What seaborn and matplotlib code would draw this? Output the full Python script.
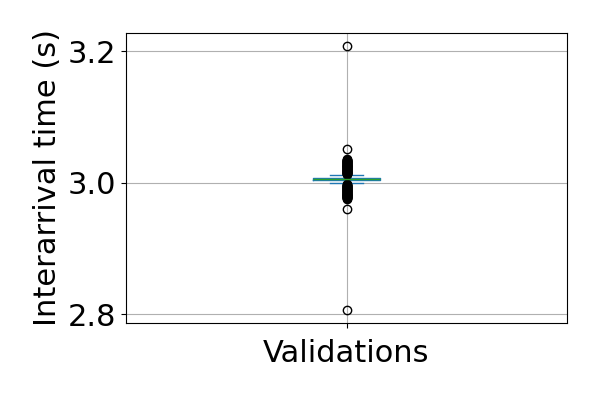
import numpy as np
import pandas as pd
import seaborn as sns
import matplotlib.pyplot as plt

# ----- Data ----- #
category = "Validations"

# bulk of the interarrival times (s), inside the whiskers, as value / count
core_values = [2.9995, 3.0010, 3.0025, 3.0038, 3.0047, 3.0056,
               3.0065, 3.0073, 3.0090, 3.0105, 3.0117]
core_counts = [2, 2, 3, 60, 20, 60, 20, 60, 3, 2, 2]

# outlying interarrival times (s)
low_outliers = [
    2.807, 2.960,
    2.9760, 2.9764, 2.9770, 2.9775, 2.9779, 2.9785, 2.9790, 2.9794, 2.9800, 2.9805,
    2.9809, 2.9815, 2.9820, 2.9824, 2.9830, 2.9835, 2.9839, 2.9845, 2.9850, 2.9854,
    2.9860, 2.9865, 2.9869, 2.9875, 2.9880, 2.9884, 2.9890, 2.9895, 2.9899, 2.9905,
    2.9910, 2.9914, 2.9920, 2.9925, 2.9929, 2.9935, 2.9940, 2.9944, 2.9950, 2.9955,
    2.9959, 2.9965, 2.9970, 2.9974, 2.9980,
]
high_outliers = [
    3.0130, 3.0134, 3.0140, 3.0145, 3.0149, 3.0155, 3.0160, 3.0164, 3.0170, 3.0175,
    3.0179, 3.0185, 3.0190, 3.0194, 3.0200, 3.0205, 3.0209, 3.0215, 3.0220, 3.0224,
    3.0230, 3.0235, 3.0239, 3.0245, 3.0250, 3.0254, 3.0260, 3.0265, 3.0269, 3.0275,
    3.0280, 3.0284, 3.0290, 3.0295, 3.0299, 3.0305, 3.0310, 3.0314, 3.0320, 3.0325,
    3.0329, 3.0335, 3.0340, 3.0344, 3.0350, 3.0355, 3.0360,
    3.052, 3.208,
]

y_ticks = [2.8, 3.0, 3.2]

times = list(np.repeat(core_values, core_counts)) + low_outliers + high_outliers
df = pd.DataFrame({"variable": [category] * len(times), "value": times})

# ----- Plot ----- #
fig, ax = plt.subplots(figsize=(6, 4), dpi=100)

sns.boxplot(
    data=df, x="variable", y="value", ax=ax,
    width=0.15, fill=False, linewidth=1,
    boxprops=dict(color="#1f77b4"),
    whiskerprops=dict(color="#1f77b4"),
    capprops=dict(color="#1f77b4"),
    medianprops=dict(color="#2ca02c"),
    flierprops=dict(marker="o", markerfacecolor="none",
                    markeredgecolor="black", markersize=6),
)

ax.set_xlabel("")
ax.set_ylabel("Interarrival time (s)", fontsize=22)
ax.set_yticks(y_ticks)
ax.tick_params(axis="both", labelsize=22)
ax.tick_params(axis="x", pad=8)
ax.grid(True, color="#b0b0b0", linewidth=0.8)
ax.set_axisbelow(True)

plt.subplots_adjust(left=0.21, right=0.945, top=0.9175, bottom=0.1925)
plt.savefig("out.png", dpi=100)
